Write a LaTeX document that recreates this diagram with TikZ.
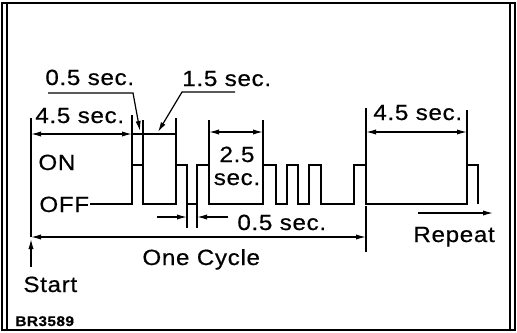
\documentclass[tikz,border=0pt]{standalone}
\usepackage{fontspec}
\setmainfont{Liberation Sans}[FakeStretch=1.1, LetterSpace=3, FakeBold=0.5]
\usepackage{tikz}
\usetikzlibrary{arrows.meta}

\begin{document}
\begin{tikzpicture}[
    x=0.5pt, y=-0.5pt,
    lbl/.style={anchor=base west, inner sep=0pt, font=\fontsize{11}{13}\selectfont},
    wave/.style={line width=1.1pt, line join=miter},
    ext/.style={line width=0.6pt},
    dim/.style={line width=0.6pt, {Latex[length=5pt,width=2.6pt]}-{Latex[length=5pt,width=2.6pt]}},
    arrow/.style={line width=0.6pt, -{Latex[length=5pt,width=2.6pt]}},
    frame/.style={line width=1pt}
]
\useasboundingbox (0,0) rectangle (517,332);
% frame
\draw[frame] (2,3) rectangle (515,330);
\draw[line width=0.8pt] (7,3) -- (7,330) (510,3) -- (510,330);

% labels
\node[lbl] (halfA) at (45,85) {0.5 sec.};
\node[lbl] (oneHalf) at (182,86) {1.5 sec.};
\node[lbl] (fourA) at (35,123) {4.5 sec.};
\node[lbl] (fourB) at (373,120) {4.5 sec.};
\node[lbl] (on) at (38,170) {ON};
\node[lbl] (off) at (39,212) {OFF};
\node[lbl, anchor=base] (twoHalf) at (237,162) {2.5};
\node[lbl, anchor=base] (twoHalfSec) at (237,185) {sec.};
\node[lbl] (halfB) at (237,230) {0.5 sec.};
\node[lbl] (cycle) at (142,265) {One Cycle};
\node[lbl] (repeat) at (413,242) {Repeat};
\node[lbl] (start) at (23,292) {Start};
\node[lbl, font=\fontsize{7}{8}\selectfont\bfseries] (code) at (15,326) {BR3589};

% ON/OFF signal
\coordinate (w0) at (90,204);
\draw[wave] (w0) \foreach \a/\b in {132/143,176/187,197/209,263/276,287/298,309/321,354/366}
    { -- (\a,204) -- (\a,165) -- (\b,165) -- (\b,204) }
    -- (467,204) -- (467,165) -- (478,165) -- (478,204);

% extension lines
\foreach \x/\t in {132/115,143/120,176/118,209/120,263/120,366/108,467/110}
    \draw[ext] (\x,\t) -- (\x,165);
\foreach \x in {187,197}
    \draw[ext] (\x,204) -- (\x,228);
\draw[ext] (366,206) -- (366,252);

% dimension points
\coordinate (s0) at (31,118);
\coordinate (s1) at (31,267);
\coordinate (s2) at (31,239);
\coordinate (d1a) at (31,134);
\coordinate (d1b) at (132,134);
\coordinate (d1c) at (176,134);
\coordinate (g1) at (209,132);
\coordinate (g2) at (263,132);
\coordinate (f1) at (366,132);
\coordinate (f2) at (467,132);
\coordinate (c1) at (31,237);
\coordinate (c2) at (366,237);
\coordinate (b1) at (157,217);
\coordinate (b2) at (187,217);
\coordinate (b3) at (228,217);
\coordinate (b4) at (197,217);
\coordinate (r1) at (418,213);
\coordinate (r2) at (493,213);
\coordinate (l1a) at (48,93);
\coordinate (l1b) at (133,93);
\coordinate (l1c) at (140,131);
\coordinate (l2a) at (235,92);
\coordinate (l2b) at (182,92);
\coordinate (l2c) at (158,132);

\draw[ext] (s0) -- (c1);
\draw[arrow] (s1) -- (s2);
\draw[dim] (d1a) -- (d1b);
\draw[ext] (d1b) -- (d1c);
\draw[dim] (g1) -- (g2);
\draw[dim] (f1) -- (f2);
\draw[dim] (c1) -- (c2);
\draw[arrow] (b1) -- (b2);
\draw[arrow] (b3) -- (b4);
\draw[arrow] (r1) -- (r2);
\draw[arrow] (l1a) -- (l1b) -- (l1c);
\draw[arrow] (l2a) -- (l2b) -- (l2c);
\end{tikzpicture}
\end{document}
